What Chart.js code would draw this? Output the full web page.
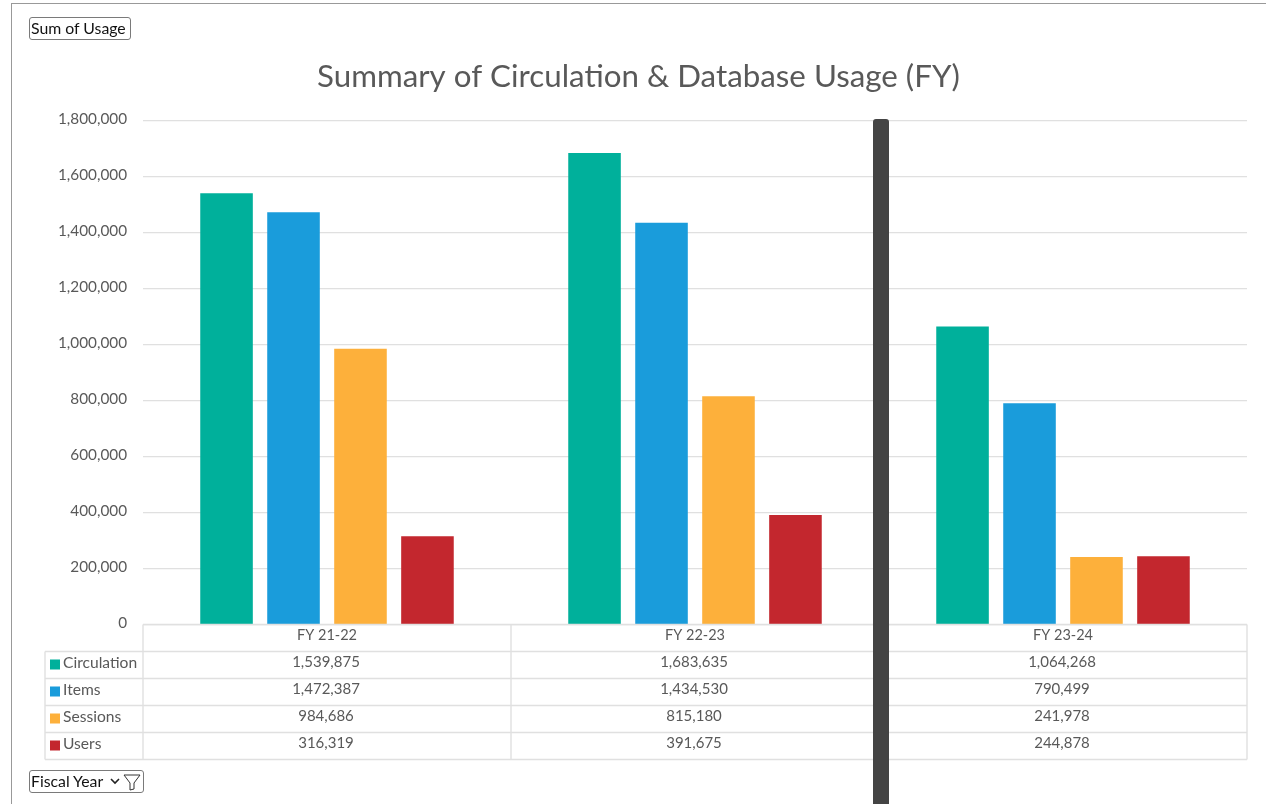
<!DOCTYPE html>
<html>
<head>
<meta charset="utf-8">
<title>Summary of Circulation & Database Usage (FY)</title>
<script src="https://cdn.jsdelivr.net/npm/chart.js@4"></script>
<style>
    html, body { margin: 0; padding: 0; background: #fff; overflow: hidden; }
    #wrap { position: relative; width: 1266px; height: 804px; font-family: Lato, sans-serif; }
    #wrap canvas { position: absolute; left: 0; top: 0; }
    .frame-top { position: absolute; left: 11px; right: 0; top: 3px; height: 1px; background: #999; }
    .frame-left { position: absolute; left: 11px; top: 3px; bottom: 0; width: 1px; background: #999; }
    .field-btn {
        position: absolute; left: 29px; height: 21px; line-height: 20px; padding: 0 1px;
        border: 1px solid #7a7a7a; border-radius: 3px; background: #fff;
        font-size: 15.8px; color: #111; box-sizing: content-box; white-space: nowrap;
    }
    #usageBtn { top: 17px; width: 98px; }
    #yearBtn { top: 770px; width: 111px; }
    #yearBtn svg { position: absolute; top: 2px; }
    #splitter { position: absolute; left: 873px; top: 119px; width: 16px; bottom: 0; background: #444; border-radius: 3px 3px 0 0; }
</style>
</head>
<body>
<div id="wrap">
    <canvas id="usageChart" width="1266" height="804"></canvas>
    <div class="frame-top"></div>
    <div class="frame-left"></div>
    <div class="field-btn" id="usageBtn">Sum of Usage</div>
    <div class="field-btn" id="yearBtn">Fiscal Year
        <svg style="left:80px" width="10" height="16" viewBox="0 0 10 16"><path d="M1 6 L5 10 L9 6" fill="none" stroke="#222" stroke-width="1.6"/></svg>
        <svg style="left:93px" width="18" height="18" viewBox="0 0 18 18"><path d="M1 2 H17 L11 10 V16 L7 17 V10 Z" fill="none" stroke="#333" stroke-width="1"/></svg>
    </div>
    <div id="splitter"></div>
</div>
<script>
const fiscalYears = ['FY 21-22', 'FY 22-23', 'FY 23-24'];
const circulation = [1539875, 1683635, 1064268];
const items = [1472387, 1434530, 790499];
const sessions = [984686, 815180, 241978];
const users = [316319, 391675, 244878];

const seriesNames = ['Circulation', 'Items', 'Sessions', 'Users'];
const seriesValues = [circulation, items, sessions, users];
const seriesColors = ['#00b09b', '#1a9cdb', '#fdb03b', '#c3272e'];

const textColor = '#595959';
const lineColor = '#e0e0e0';

// data table under the plot, lined up with the category scale
const dataTable = {
    id: 'dataTable',
    afterDraw(chart) {
        const ctx = chart.ctx;
        const area = chart.chartArea;
        const xScale = chart.scales.x;
        const rowHeight = 27;
        const legendLeft = 45;
        const top = Math.floor(area.bottom) + 0.5;
        const headerBottom = top + rowHeight;
        const tableBottom = headerBottom + seriesNames.length * rowHeight;
        const step = (area.right - area.left) / fiscalYears.length;

        ctx.save();
        ctx.strokeStyle = lineColor;
        ctx.lineWidth = 1.4;
        ctx.beginPath();
        ctx.moveTo(area.left, top);
        ctx.lineTo(area.right, top);
        for (let r = 0; r <= seriesNames.length; r++) {
            ctx.moveTo(legendLeft, headerBottom + r * rowHeight);
            ctx.lineTo(area.right, headerBottom + r * rowHeight);
        }
        for (let c = 0; c <= fiscalYears.length; c++) {
            ctx.moveTo(area.left + c * step, top);
            ctx.lineTo(area.left + c * step, tableBottom);
        }
        ctx.moveTo(legendLeft, headerBottom);
        ctx.lineTo(legendLeft, tableBottom);
        ctx.stroke();

        ctx.fillStyle = textColor;
        ctx.textBaseline = 'middle';
        seriesNames.forEach((name, r) => {
            const y = headerBottom + r * rowHeight;
            ctx.fillStyle = seriesColors[r];
            ctx.fillRect(50, y + 8, 10, 10);
            ctx.fillStyle = textColor;
            ctx.textAlign = 'left';
            ctx.font = '15.6px Lato, sans-serif';
            ctx.fillText(name, 63, y + 11);
            ctx.textAlign = 'center';
            ctx.font = '15px Lato, sans-serif';
            seriesValues[r].forEach((v, c) => {
                ctx.fillText(v.toLocaleString('en-US'), xScale.getPixelForValue(c) - 1, y + 11);
            });
        });
        ctx.restore();
    }
};

new Chart(document.getElementById('usageChart'), {
    type: 'bar',
    data: {
        labels: fiscalYears,
        datasets: seriesNames.map((name, i) => ({
            label: name,
            data: seriesValues[i],
            backgroundColor: seriesColors[i],
            barPercentage: 0.785,
            categoryPercentage: 0.728
        }))
    },
    options: {
        responsive: false,
        animation: false,
        layout: { padding: { left: 30, right: 19, top: 0, bottom: 0 } },
        plugins: {
            legend: { display: false },
            tooltip: { enabled: false },
            title: {
                display: true,
                text: 'Summary of Circulation & Database Usage (FY)',
                color: textColor,
                font: { family: 'Lato, sans-serif', size: 31.3, weight: 'normal' },
                padding: { top: 58, bottom: 24.8 }
            }
        },
        scales: {
            x: {
                grid: { display: false, tickLength: 0 },
                border: { display: false },
                ticks: { color: textColor, font: { family: 'Lato, sans-serif', size: 14.5 }, padding: 2 },
                afterFit(scale) { scale.height = 179.2; }
            },
            y: {
                min: 0,
                max: 1800000,
                grid: { color: lineColor, lineWidth: 1.3, drawTicks: false },
                border: { display: false },
                ticks: {
                    stepSize: 200000,
                    color: textColor,
                    padding: 16,
                    labelOffset: -1.5,
                    font: { family: 'Lato, sans-serif', size: 15.3 },
                    callback: v => v.toLocaleString('en-US')
                },
                afterFit(scale) { scale.width = 113; }
            }
        }
    },
    plugins: [dataTable]
});
</script>
</body>
</html>
